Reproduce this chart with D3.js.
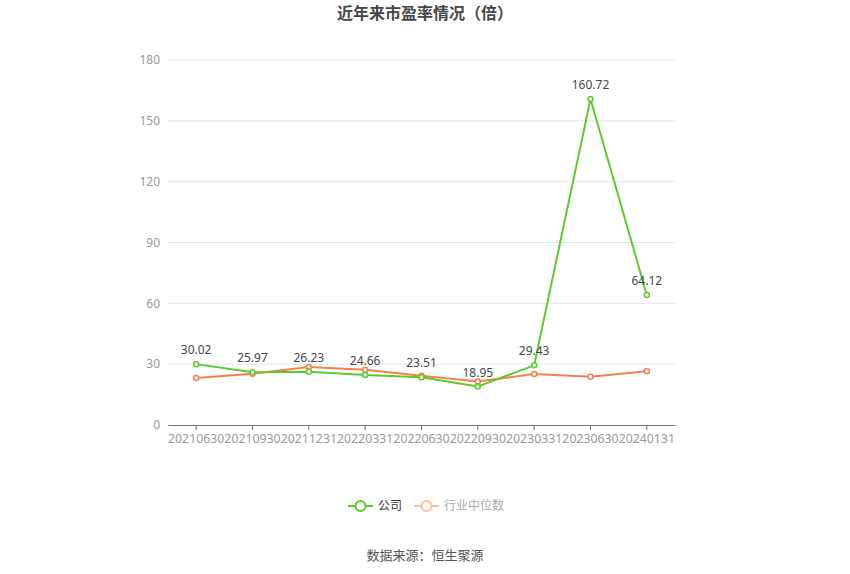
<!DOCTYPE html>
<html>
<head>
<meta charset="utf-8">
<script src="https://cdn.jsdelivr.net/npm/d3@7"></script>
<style>
  body { margin: 0; background: #fff; }
  svg { font-family: "Noto Sans CJK SC", "Microsoft YaHei", sans-serif; }
</style>
</head>
<body>
<div id="chart"></div>
<script>
// Report dates on the x axis.
const periods = ['20210630', '20210930', '20211231', '20220331', '20220630',
  '20220930', '20230331', '20230630', '20240131'];
// Company P/E ratio.
const companyPE = [30.02, 25.97, 26.23, 24.66, 23.51, 18.95, 29.43, 160.72, 64.12];
// Industry median P/E ratio.
const industryPE = [23.2, 25.3, 28.6, 27.3, 24.3, 21.5, 25.1, 23.8, 26.5];
const yTicks = [0, 30, 60, 90, 120, 150, 180];

const width = 850;
const height = 574;
const margin = { top: 60, right: 175, bottom: 149, left: 168 };

const green = '#5ccb2a';
const orange = '#f5804d';
const numFont = '"Noto Sans", sans-serif';

const svg = d3.select('#chart')
  .append('svg')
  .attr('width', width)
  .attr('height', height);

const x = d3.scaleBand()
  .domain(periods)
  .range([margin.left, width - margin.right]);

const y = d3.scaleLinear()
  .domain([0, 180])
  .range([height - margin.bottom, margin.top]);

const cx = d => x(d) + x.bandwidth() / 2;

// Title
svg.append('text')
  .attr('x', width / 2)
  .attr('y', 19)
  .attr('text-anchor', 'middle')
  .style('font-size', '16px')
  .style('font-weight', 'bold')
  .style('fill', '#464646')
  .text('近年来市盈率情况（倍）');

// Grid lines
svg.append('g')
  .selectAll('line')
  .data(yTicks.filter(t => t > 0))
  .join('line')
  .attr('x1', margin.left)
  .attr('x2', width - margin.right)
  .attr('y1', d => y(d))
  .attr('y2', d => y(d))
  .style('stroke', '#e0e6f1')
  .style('stroke-width', 1);

// Y axis labels
svg.append('g')
  .selectAll('text')
  .data(yTicks)
  .join('text')
  .attr('x', margin.left - 8)
  .attr('y', d => y(d))
  .attr('dy', '0.35em')
  .attr('text-anchor', 'end')
  .style('font-size', '12px')
  .style('font-family', numFont)
  .style('fill', '#999')
  .text(d => d);

// X axis
const xAxis = svg.append('g')
  .attr('transform', `translate(0,${y(0)})`)
  .call(d3.axisBottom(x).tickSize(5).tickSizeOuter(0));
xAxis.select('.domain').style('stroke', '#6e7079');
xAxis.selectAll('.tick line').style('stroke', '#6e7079');
xAxis.selectAll('.tick text')
  .attr('dy', '0.85em')
  .style('font-size', '12.3px')
  .style('fill', '#999')
  .style('font-family', numFont);

const line = d3.line()
  .x((d, i) => cx(periods[i]))
  .y(d => y(d));

function drawSeries(values, colour) {
  svg.append('path')
    .datum(values)
    .attr('d', line)
    .style('fill', 'none')
    .style('stroke', colour)
    .style('stroke-width', 2);
  svg.append('g')
    .selectAll('circle')
    .data(values)
    .join('circle')
    .attr('cx', (d, i) => cx(periods[i]))
    .attr('cy', d => y(d))
    .attr('r', 2.5)
    .style('fill', '#fff')
    .style('stroke', colour)
    .style('stroke-width', 1.5);
}

drawSeries(industryPE, orange);
drawSeries(companyPE, green);

// Value labels on the company series
svg.append('g')
  .selectAll('text')
  .data(companyPE)
  .join('text')
  .attr('x', (d, i) => cx(periods[i]))
  .attr('y', d => y(d) - 10)
  .attr('text-anchor', 'middle')
  .style('font-size', '12px')
  .style('font-family', numFont)
  .style('fill', '#464646')
  .text(d => d.toFixed(2));

// Legend
const legend = svg.append('g').attr('transform', 'translate(0,506)');
const legendItems = [
  { name: '公司', colour: green, text: '#333', x: 348 },
  { name: '行业中位数', colour: '#fbbfa5', text: '#aaa', x: 414 },
];
const item = legend.selectAll('g')
  .data(legendItems)
  .join('g')
  .attr('transform', d => `translate(${d.x},0)`);
item.append('line')
  .attr('x1', 0).attr('x2', 25)
  .style('stroke', d => d.colour)
  .style('stroke-width', 2);
item.append('circle')
  .attr('cx', 12.5)
  .attr('r', 5)
  .style('fill', '#fff')
  .style('stroke', d => d.colour)
  .style('stroke-width', 2);
item.append('text')
  .attr('x', 30)
  .attr('dy', '0.35em')
  .style('font-size', '12px')
  .style('fill', d => d.text)
  .text(d => d.name);

// Source
svg.append('text')
  .attr('x', width / 2)
  .attr('y', 560)
  .attr('text-anchor', 'middle')
  .style('font-size', '13px')
  .style('fill', '#555')
  .text('数据来源：恒生聚源');
</script>
</body>
</html>
